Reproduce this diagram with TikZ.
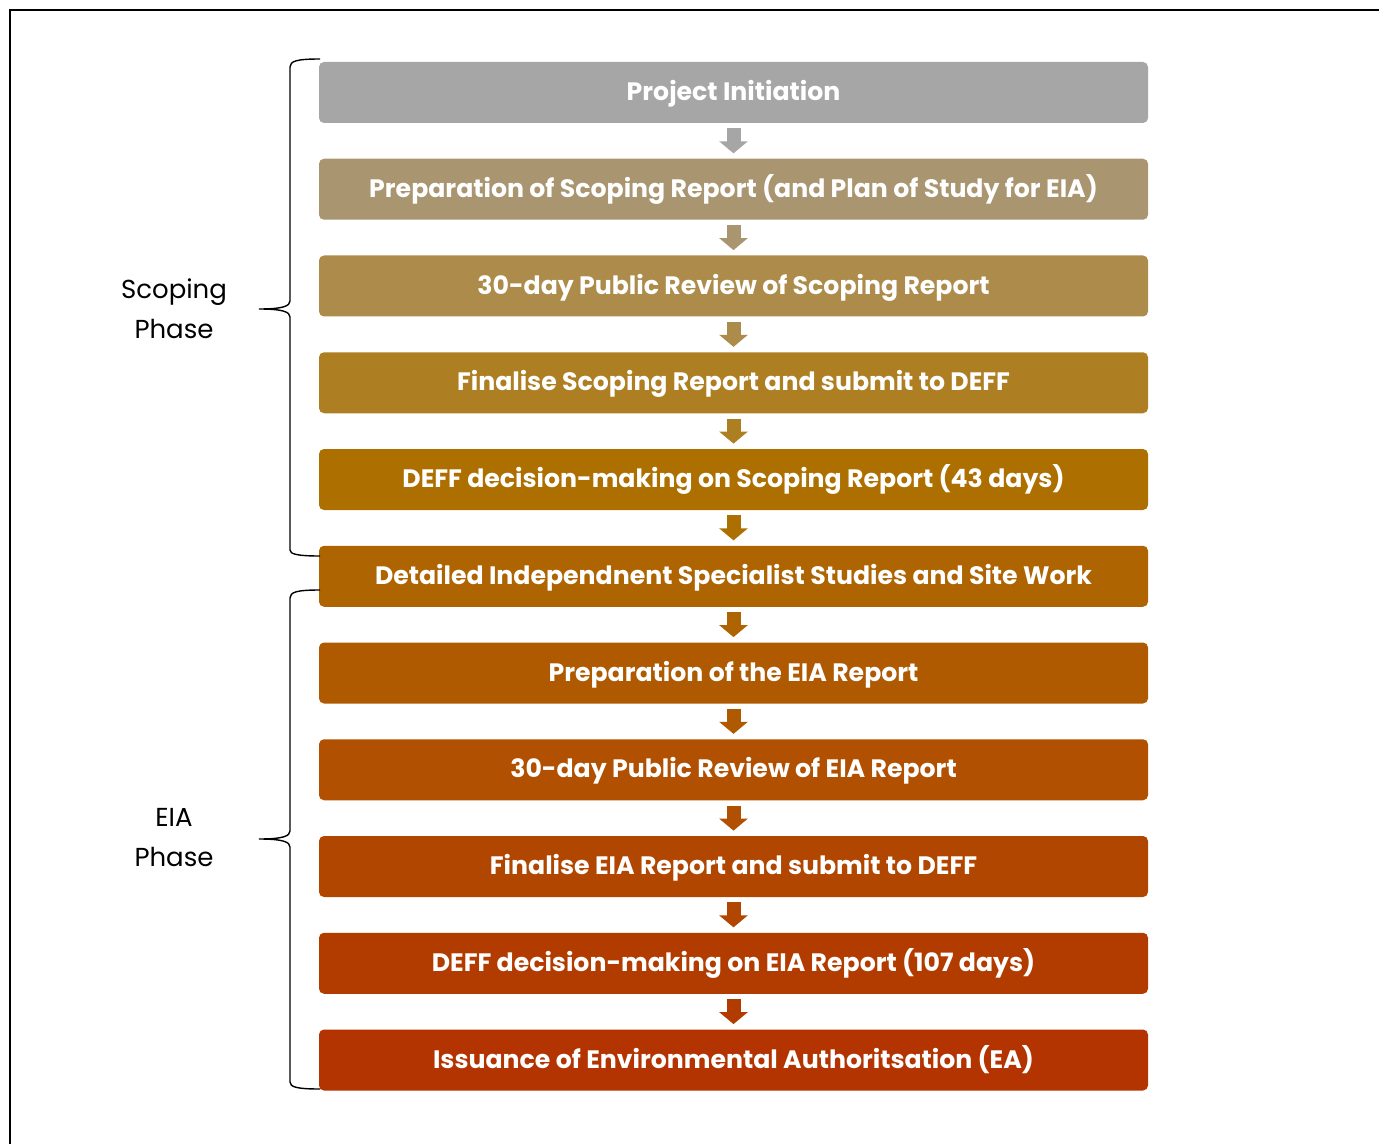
\documentclass[tikz,border=0pt]{standalone}
\usepackage{fontspec}
\setmainfont{Poppins}
\usetikzlibrary{arrows.meta}
\definecolor{c1}{HTML}{A6A6A6}
\definecolor{c2}{HTML}{A99570}
\definecolor{c3}{HTML}{AD8B4A}
\definecolor{c4}{HTML}{AE7F22}
\definecolor{c5}{HTML}{AD7000}
\definecolor{c6}{HTML}{AE6400}
\definecolor{c7}{HTML}{AF5900}
\definecolor{c8}{HTML}{B05000}
\definecolor{c9}{HTML}{B14600}
\definecolor{c10}{HTML}{B23C00}
\definecolor{c11}{HTML}{B33400}
\tikzset{box/.style={rectangle,rounded corners=2.5pt,minimum width=414.5pt,minimum height=30.5pt,text centered,text=white,font=\fontsize{12.6}{14}\selectfont\bfseries,inner sep=0pt,text height=8.8pt,text depth=0.6pt},flow/.style={draw=#1,line width=7pt,-{Triangle[width=14pt,length=6pt]},shorten <=2.5pt,shorten >=2.5pt},phase/.style={align=center,font=\fontsize{13}{20}\selectfont},brace/.style={line width=0.7pt}}

\begin{document}
\begin{tikzpicture}[x=0.5pt,y=-0.5pt]
\useasboundingbox (0,0) rectangle (1379,1144);
\draw[line width=1pt] (9.5,1144) -- (9.5,10.5) -- (1379,10.5);

%scoping phase
\node (b1) at (733.5,92.5)[box,fill=c1]{Project Initiation};
\node (b2) at (733.5,189.25)[box,fill=c2]{Preparation of Scoping Report (and Plan of Study for EIA)};
\node (b3) at (733.5,286)[box,fill=c3]{30-day Public Review of Scoping Report};
\node (b4) at (733.5,382.75)[box,fill=c4]{Finalise Scoping Report and submit to DEFF};
\node (b5) at (733.5,479.5)[box,fill=c5]{DEFF decision-making on Scoping Report (43 days)};

%eia phase
\node (b6) at (733.5,576.25)[box,fill=c6]{Detailed Independnent Specialist Studies and Site Work};
\node (b7) at (733.5,673)[box,fill=c7]{Preparation of the EIA Report};
\node (b8) at (733.5,769.75)[box,fill=c8]{30-day Public Review of EIA Report};
\node (b9) at (733.5,866.5)[box,fill=c9]{Finalise EIA Report and submit to DEFF};
\node (b10) at (733.5,963.25)[box,fill=c10]{DEFF decision-making on EIA Report (107 days)};
\node (b11) at (733.5,1060)[box,fill=c11]{Issuance of Environmental Authoritsation (EA)};

%arrows
\draw[flow=c1] (b1) -- (b2);
\draw[flow=c2] (b2) -- (b3);
\draw[flow=c3] (b3) -- (b4);
\draw[flow=c4] (b4) -- (b5);
\draw[flow=c5] (b5) -- (b6);
\draw[flow=c6] (b6) -- (b7);
\draw[flow=c7] (b7) -- (b8);
\draw[flow=c8] (b8) -- (b9);
\draw[flow=c9] (b9) -- (b10);
\draw[flow=c10] (b10) -- (b11);

%braces
\draw[brace] (320,59) .. controls (297,59) and (290,61) .. (290,67) -- (290,301)
  .. controls (290,306) and (283,309) .. (259,309)
  .. controls (283,309) and (290,312) .. (290,317) -- (290,550)
  .. controls (290,554) and (297,556) .. (320,556);
\draw[brace] (320,590) .. controls (297,590) and (290,592) .. (290,598) -- (290,831)
  .. controls (290,836) and (283,839) .. (259,839)
  .. controls (283,839) and (290,842) .. (290,847) -- (290,1082)
  .. controls (290,1087) and (297,1089) .. (320,1089);

\node (scoping) at (174,309)[phase]{Scoping\\Phase};
\node (eia) at (174,838)[phase]{EIA\\Phase};

\end{tikzpicture}
\end{document}
